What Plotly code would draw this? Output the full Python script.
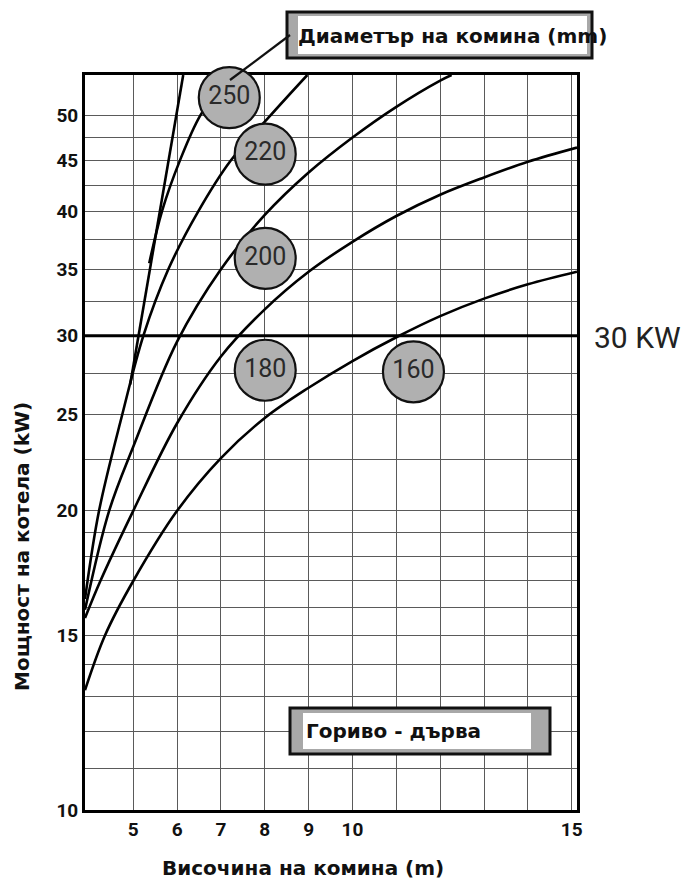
import math
import plotly.graph_objects as go

# ---------------- data ----------------
x_tickvals = [5, 6, 7, 8, 9, 10, 11, 12, 13, 14, 15]
x_ticktext = ["5", "6", "7", "8", "9", "10", "", "", "", "", "15"]

y_gridvals = [10, 11, 12, 13, 14, 15, 16, 17, 18, 19, 20, 22.5, 25, 27.5,
              30, 32.5, 35, 37.5, 40, 42.5, 45, 47.5, 50]
y_labelled = [10, 15, 20, 25, 30, 35, 40, 45, 50]

# chimney height (m) vs boiler power (kW) for each chimney diameter
d160_x = [3.90, 4.36, 5.0, 6.0, 7.0, 8.0, 9.0, 10.0, 11.0, 12.0, 13.0, 14.0, 15.12]
d160_y = [13.2, 15.0, 17.0, 20.0, 22.6, 24.8, 26.6, 28.3, 29.9, 31.4, 32.7, 33.8, 34.8]

d180_x = [3.90, 4.25, 5.0, 6.0, 7.0, 8.0, 9.0, 10.0, 11.0, 12.0, 13.0, 14.0, 15.12]
d180_y = [15.6, 17.0, 20.0, 24.5, 28.6, 31.9, 34.8, 37.3, 39.6, 41.6, 43.3, 44.9, 46.4]

d200_x = [3.90, 4.45, 5.0, 6.0, 7.0, 8.0, 9.0, 10.0, 11.0, 12.0, 12.26]
d200_y = [15.9, 20.0, 23.2, 29.6, 35.0, 39.7, 43.8, 47.5, 51.0, 54.2, 54.9]

d220_x = [3.90, 4.22, 4.75, 5.23, 5.80, 6.48, 7.22, 8.13, 8.97]
d220_y = [16.3, 20.0, 25.0, 30.0, 35.0, 40.0, 45.0, 50.0, 54.9]

d250_x = [5.365, 5.66, 6.07, 6.53, 7.03]
d250_y = [35.5, 40.1, 45.1, 50.0, 53.6]

limit_x = [4.93, 6.14]
limit_y = [26.8, 54.9]

power_limit = 30

circle_labels = ["250", "220", "200", "180", "160"]
circle_x = [7.19, 8.01, 8.01, 8.01, 11.39]
circle_y = [52.1, 45.7, 35.9, 27.7, 27.6]

# ---------------- figure ----------------
fig = go.Figure()

curve_style = dict(color="black", width=2.6, shape="spline", smoothing=1.0)
for cx, cy in [(d160_x, d160_y), (d180_x, d180_y), (d200_x, d200_y),
               (d220_x, d220_y), (d250_x, d250_y)]:
    fig.add_trace(go.Scatter(x=cx, y=cy, mode="lines", line=curve_style,
                             hoverinfo="skip"))
fig.add_trace(go.Scatter(x=limit_x, y=limit_y, mode="lines",
                         line=dict(color="black", width=2.6), hoverinfo="skip"))

# 30 kW line
fig.add_trace(go.Scatter(x=[3.90, 15.12], y=[power_limit, power_limit], mode="lines",
                         line=dict(color="black", width=3), hoverinfo="skip"))

# diameter circles
fig.add_trace(go.Scatter(
    x=circle_x, y=circle_y, mode="markers+text", text=circle_labels,
    textposition="middle center",
    textfont=dict(family="Roboto", size=25, color="#2a2a2a"),
    marker=dict(size=61, color="#b0b0b0", line=dict(color="#111111", width=2.2)),
    cliponaxis=False, hoverinfo="skip"))

ytext = [str(v) if v in y_labelled else "" for v in y_gridvals]
tick_font = dict(family="Roboto", size=19, color="#111111", weight="bold")

fig.update_layout(
    width=682, height=882,
    margin=dict(l=77, r=113, t=67, b=80),
    paper_bgcolor="white", plot_bgcolor="white",
    showlegend=False,
    xaxis=dict(range=[3.90, 15.12], tickmode="array", tickvals=x_tickvals,
               ticktext=x_ticktext, showgrid=True, gridcolor="#5a5a5a", gridwidth=1.3,
               showline=True, linecolor="black", linewidth=3, mirror=True,
               zeroline=False, ticks="", layer="below traces", tickfont=tick_font),
    yaxis=dict(type="log", range=[1, math.log10(54.9)], tickmode="array",
               tickvals=y_gridvals, ticktext=ytext, showgrid=True,
               gridcolor="#5a5a5a", gridwidth=1.3,
               showline=True, linecolor="black", linewidth=3, mirror=True,
               zeroline=False, ticks="", layer="below traces", tickfont=tick_font),
)

# helpers: page pixel -> paper coordinates of the plot area (85..577, 75..810)
W, H = 492.0, 735.0
def px(xp):
    return (xp - 85) / W
def py(yp):
    return (810 - yp) / H

shapes = [
    # title box
    dict(type="rect", xref="paper", yref="paper", x0=px(287), x1=px(592), y0=py(58), y1=py(12),
         fillcolor="#a8a8a8", line=dict(color="#111111", width=3), layer="above"),
    dict(type="rect", xref="paper", yref="paper", x0=px(298), x1=px(587), y0=py(54), y1=py(16),
         fillcolor="white", line=dict(width=0), layer="above"),
    # leader line
    dict(type="line", xref="paper", yref="paper", x0=px(230), y0=py(80), x1=px(290), y1=py(35),
         line=dict(color="#111111", width=2.2), layer="above"),
    # fuel box
    dict(type="rect", xref="paper", yref="paper", x0=px(290), x1=px(550), y0=py(754), y1=py(708),
         fillcolor="#a8a8a8", line=dict(color="#111111", width=3), layer="above"),
    dict(type="rect", xref="paper", yref="paper", x0=px(303), x1=px(531), y0=py(749), y1=py(713),
         fillcolor="white", line=dict(width=0), layer="above"),
]
fig.update_layout(shapes=shapes)

title_font = dict(family="DejaVu Sans", size=20, color="#111111", weight="bold")
fig.add_annotation(xref="paper", yref="paper", x=px(296), y=py(36), xanchor="left",
                   yanchor="middle", text="Диаметър на комина (mm)", showarrow=False,
                   font=title_font)
fig.add_annotation(xref="paper", yref="paper", x=px(304), y=py(731), xanchor="left",
                   yanchor="middle", text="Гориво - дърва", showarrow=False,
                   font=title_font)
fig.add_annotation(xref="paper", yref="paper", x=px(592), y=py(337), xanchor="left",
                   yanchor="middle", text="30 KW", showarrow=False,
                   font=dict(family="Roboto", size=30, color="#222222"))
fig.add_annotation(xref="paper", yref="paper", x=px(22), y=py(547), xanchor="center",
                   yanchor="middle", text="Мощност на котела (kW)", showarrow=False,
                   textangle=-90, font=title_font)
fig.add_annotation(xref="paper", yref="paper", x=px(303), y=py(868), xanchor="center",
                   yanchor="middle", text="Височина на комина (m)", showarrow=False,
                   font=title_font)

fig.write_html("out.html")
